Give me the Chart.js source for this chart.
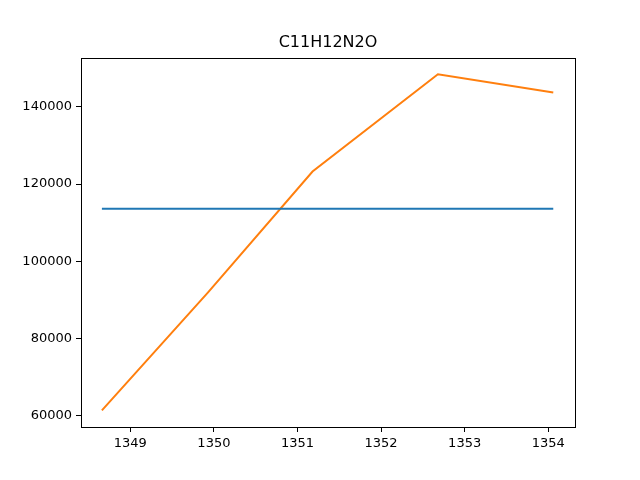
<!DOCTYPE html>
<html>
<head>
<meta charset="utf-8">
<script src="https://cdn.jsdelivr.net/npm/chart.js@4"></script>
<style>
  html, body { margin: 0; padding: 0; background: #fff; }
  #wrap { width: 640px; height: 480px; }
</style>
</head>
<body>
<div id="wrap"><canvas id="chart" width="640" height="480"></canvas></div>
<script>
const titleText = 'C11H12N2O';
const flatX = [1348.66, 1354.06];
const flatY = [113600, 113600];
const riseX = [1348.66, 1349.93, 1351.18, 1352.68, 1354.06];
const riseY = [61300, 91900, 123260, 148470, 143730];
const xTicks = [1349, 1350, 1351, 1352, 1353, 1354];
const yTicks = [60000, 80000, 100000, 120000, 140000];

const toPoints = (xs, ys) => xs.map((x, i) => ({ x, y: ys[i] }));
const font = { family: '"DejaVu Sans", sans-serif', size: 13 };

// frame on all four sides plus the title above the plot
const framePlugin = {
  id: 'frame',
  afterDraw(chart) {
    const { ctx, chartArea: a } = chart;
    ctx.save();
    ctx.strokeStyle = '#000';
    ctx.lineWidth = 1;
    ctx.strokeRect(a.left + 0.5, a.top + 0.5, a.right - a.left, a.bottom - a.top);
    ctx.fillStyle = '#000';
    ctx.font = '16px "DejaVu Sans", sans-serif';
    ctx.textAlign = 'center';
    ctx.textBaseline = 'middle';
    ctx.fillText(titleText, (a.left + a.right) / 2, 43);
    ctx.restore();
  }
};

new Chart(document.getElementById('chart'), {
  type: 'line',
  data: {
    datasets: [
      { data: toPoints(flatX, flatY), borderColor: '#1f77b4', borderWidth: 2, pointRadius: 0, tension: 0 },
      { data: toPoints(riseX, riseY), borderColor: '#ff7f0e', borderWidth: 2, pointRadius: 0, tension: 0 }
    ]
  },
  options: {
    responsive: false,
    animation: false,
    layout: { padding: { top: 58, right: 65, left: 0, bottom: 0 } },
    plugins: { legend: { display: false }, tooltip: { enabled: false }, title: { display: false } },
    scales: {
      x: {
        type: 'linear',
        min: 1348.41,
        max: 1354.32,
        afterFit: (s) => { s.height = 53; },
        afterBuildTicks: (s) => { s.ticks = xTicks.map((v) => ({ value: v })); },
        ticks: { color: '#000', font, padding: 4, maxRotation: 0, callback: (v) => String(v) },
        grid: { drawOnChartArea: false, drawTicks: true, tickLength: 5, color: '#000' },
        border: { color: '#000', width: 1 }
      },
      y: {
        min: 57000,
        max: 152700,
        afterFit: (s) => { s.width = 81; },
        afterBuildTicks: (s) => { s.ticks = yTicks.map((v) => ({ value: v })); },
        ticks: { color: '#000', font, padding: 4, callback: (v) => String(v) },
        grid: { drawOnChartArea: false, drawTicks: true, tickLength: 5, color: '#000' },
        border: { color: '#000', width: 1 }
      }
    }
  },
  plugins: [framePlugin]
});
</script>
</body>
</html>
